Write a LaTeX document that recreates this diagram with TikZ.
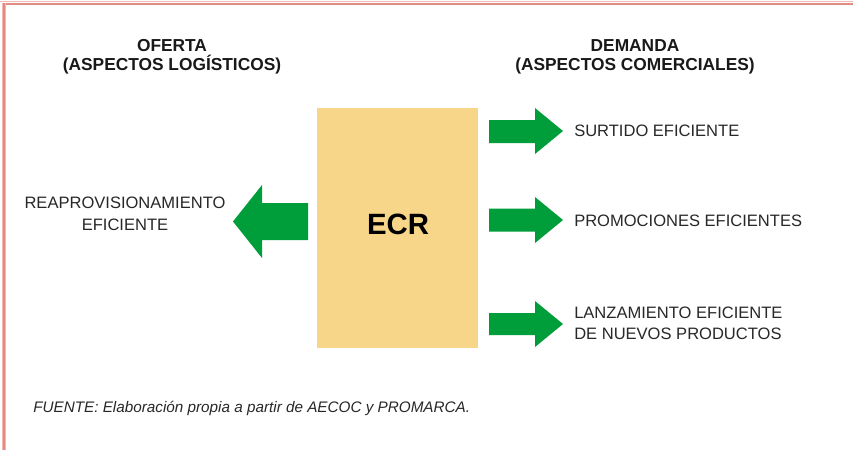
\documentclass[tikz,border=0pt]{standalone}
\usepackage{fontspec}
\setmainfont{Liberation Sans}
\definecolor{ecrgreen}{RGB}{0,158,59}
\definecolor{boxc}{RGB}{247,214,138}
\definecolor{bordr}{RGB}{224,140,130}
\definecolor{bordrl}{RGB}{240,185,178}
\definecolor{txt}{RGB}{40,40,40}
\begin{document}
\begin{tikzpicture}[x=0.75pt,y=-0.75pt,
  lbl/.style={inner sep=0pt, font=\fontsize{12.4}{16}\selectfont, text=txt},
  hdr/.style={inner sep=0pt, anchor=north, align=center, font=\bfseries\fontsize{13}{14.25}\selectfont, text=black!90},
  garrow/.style={fill=ecrgreen}]
\useasboundingbox (0,0) rectangle (853,450);
\fill[white] (0,0) rectangle (853,450);
% border
\draw[bordrl, line width=1.1pt] (0,1.5) -- (853,1.5);
\draw[bordr, line width=1.3pt] (3,4.2) -- (853,4.2);
\draw[bordrl, line width=3pt] (3.8,3) -- (3.8,450);
\draw[bordr, line width=1.6pt] (3.8,3) -- (3.8,450);
% headers
\node[hdr] (oferta) at (172,39.5) {OFERTA\\(ASPECTOS LOGÍSTICOS)};
\node[hdr] (demanda) at (635,39.5) {DEMANDA\\(ASPECTOS COMERCIALES)};
% central box
\node[fill=boxc, inner sep=0pt, minimum width=120.75pt, minimum height=180pt] (box) at (397.5,228) {};
\node[inner sep=0pt, font=\bfseries\fontsize{22}{24}\selectfont] (ecr) at (398,224) {ECR};
% arrows
\fill[garrow] (308,203) -- (262,203) -- (262,185) -- (233,221.5) -- (262,258) -- (262,240) -- (308,240) -- cycle;
\fill[garrow] (489,120) -- (535,120) -- (535,108) -- (563,131) -- (535,154) -- (535,143) -- (489,143) -- cycle;
\fill[garrow] (489,208.5) -- (535,208.5) -- (535,197) -- (563,220) -- (535,243) -- (535,231.5) -- (489,231.5) -- cycle;
\fill[garrow] (489,313) -- (535,313) -- (535,301) -- (563,324) -- (535,347) -- (535,335) -- (489,335) -- cycle;
% labels
\node[lbl, anchor=north, align=center, font=\fontsize{12.4}{16.5}\selectfont] (reap) at (125,197) {REAPROVISIONAMIENTO\\EFICIENTE};
\node[lbl, anchor=north west] (surt) at (574,125) {SURTIDO EFICIENTE};
\node[lbl, anchor=north west] (prom) at (574,215) {PROMOCIONES EFICIENTES};
\node[lbl, anchor=north west, align=left] (lanz) at (574,306.7) {LANZAMIENTO EFICIENTE\\DE NUEVOS PRODUCTOS};
% source
\node[lbl, anchor=north west, font=\itshape\fontsize{11.45}{14}\selectfont] (fuente) at (33,400.7) {FUENTE: Elaboración propia a partir de AECOC y PROMARCA.};
\end{tikzpicture}
\end{document}
